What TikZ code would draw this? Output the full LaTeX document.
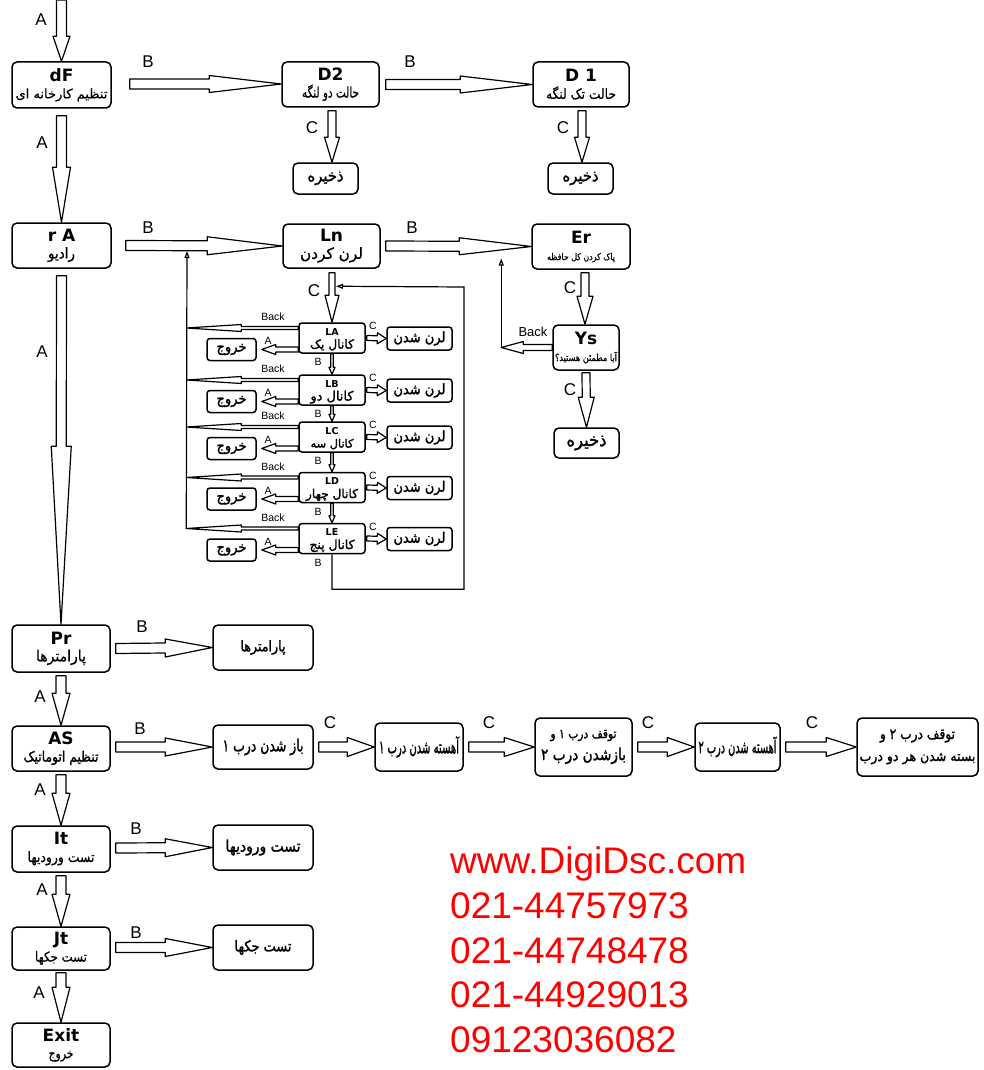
\documentclass[tikz,border=0pt]{standalone}
\usepackage{fontspec}
\usepackage{graphicx}
\setmainfont{Liberation Sans}
\newfontfamily\tf{DejaVu Sans}
\newfontfamily\ar[Script=Arabic,FakeBold=0.6]{DejaVu Sans}
\newfontfamily\arb[Script=Arabic,FakeBold=1.6]{DejaVu Sans}
\TeXXeTstate=1
\usetikzlibrary{calc,arrows.meta}
% width, vertical stretch, text
\newcommand\fa[3]{\resizebox{#1}{!}{\scalebox{1}[#2]{\ar #3}}}
\newcommand\fab[3]{\resizebox{#1}{!}{\scalebox{1}[#2]{\arb #3}}}
\newcommand\ttl[1]{{\tf\bfseries\fontsize{17}{17}\selectfont #1}}
\newcommand\stl[1]{{\tf\bfseries\fontsize{9.5}{9.5}\selectfont #1}}
\newcommand\fatarrow[5]{%
  \coordinate (faS) at (#1);
  \coordinate (faE) at (#2);
  \coordinate (faM) at ($(faE)!#3pt!(faS)$);
  \draw[fat] ($(faS)!#4pt!90:(faE)$) -- ($(faM)!#4pt!90:(faE)$) -- ($(faM)!#5pt!90:(faE)$) -- (faE) -- ($(faM)!#5pt!-90:(faE)$) -- ($(faM)!#4pt!-90:(faE)$) -- ($(faS)!#4pt!-90:(faE)$) -- cycle;}
% channel: name, arabic subtitle, centre y, subtitle width
\newcommand\chan[4]{%
  \node[sbox, minimum width=66pt, minimum height=30pt] (#1) at (332,#3) {};
  \node[inner sep=0pt, anchor=base] (#1t) at (332,#3-3) {\stl{#1}};
  \node[inner sep=0pt, anchor=base] (#1s) at (332,#3+10.5) {\fab{#4}{1}{#2}};
  \node[sbox, minimum width=49pt, minimum height=22pt] (X#1) at (231.5,#3+11.5) {\fab{30pt}{1.1}{\beginR خروج\endR}};
  \node[sbox, minimum width=65pt, minimum height=23pt] (R#1) at (419.5,#3+0.5) {\fab{52pt}{1.1}{\beginR لرن شدن\endR}};
  \coordinate (Bk#1) at ($(#1.west)+(-112,-10)$);
  \fatarrow{$(#1.west|-X#1.center)$}{$(X#1.east)+(5,0)$}{14}{2.5}{5}
  \fatarrow{$(#1.east)+(1,0)$}{R#1.west}{9}{2.5}{5.5}
  \fatarrow{$(#1.west)+(0,-10)$}{Bk#1}{55}{1.5}{3.5}
  \node[slbl] (c#1) at (373,#3-12) {C};
  \node[slbl] (a#1) at (268,#3+3) {A};
  \node[slbl] (b#1) at (318,#3+24) {B};
  \node[slbl] (k#1) at (273,#3-21) {Back};
}
\begin{document}
\begin{tikzpicture}[x=1pt,y=-1pt,
  box/.style={draw, line width=1.5pt, rounded corners=5pt, inner sep=0pt, align=center, font=\fontsize{10}{17}\selectfont},
  sbox/.style={box, rounded corners=3pt, font=\fontsize{8}{10.5}\selectfont},
  lbl/.style={inner sep=0pt, font=\fontsize{17}{17}\selectfont},
  slbl/.style={inner sep=0pt, font=\fontsize{10.5}{10.5}\selectfont},
  fat/.style={draw, line width=1.2pt, fill=white, line join=round},
  wire/.style={line width=1.2pt},
  ltip/.style={-{Triangle[open,length=7pt,width=5pt]}},
  web/.style={text=red, inner sep=0pt, anchor=base west, font=\fontsize{37}{37}\selectfont}]
\useasboundingbox (0,0) rectangle (983,1070);
\fill[white] (0,0) rectangle (983,1070);

% ---------- left column ----------
\node[box, minimum width=99pt, minimum height=46pt] (dF) at (61.5,85) {\ttl{dF}\\\fa{92pt}{1}{\beginR تنظیم کارخانه ای\endR}};
\node[box, minimum width=99pt, minimum height=45pt] (rA) at (61.5,245.5) {\ttl{r A}\\\fa{27pt}{1.1}{\beginR رادیو\endR}};
\node[box, minimum width=98pt, minimum height=47pt] (Pr) at (61,648.5) {\ttl{Pr}\\\fa{50pt}{1.1}{\beginR پارامترها\endR}};
\node[box, minimum width=98pt, minimum height=45pt] (AS) at (61,748.5) {\ttl{AS}\\\fab{75pt}{1.15}{\beginR تنظیم اتوماتیک\endR}};
\node[box, minimum width=98pt, minimum height=46pt] (It) at (61,849) {\ttl{It}\\\fa{67pt}{1.15}{\beginR تست ورودیها\endR}};
\node[box, minimum width=98pt, minimum height=43pt] (Jt) at (61,948.5) {\ttl{Jt}\\\fa{52pt}{1.15}{\beginR تست جکها\endR}};
\node[box, minimum width=98pt, minimum height=44pt] (Exit) at (61,1045) {\ttl{Exit}\\\fa{25pt}{1.3}{\beginR خروج\endR}};

% ---------- top row ----------
\node[box, minimum width=97pt, minimum height=45pt] (D2) at (330.5,84.5) {\ttl{D2}\\\fa{57pt}{1.4}{\beginR حالت دو لنگه\endR}};
\node[box, minimum width=96pt, minimum height=45pt] (D1) at (581,84.5) {\ttl{D 1}\\\fa{70pt}{1.15}{\beginR حالت تک لنگه\endR}};
\node[box, minimum width=65pt, minimum height=31pt] (S1) at (325.5,178.5) {\fab{36pt}{1.1}{\beginR ذخیره\endR}};
\node[box, minimum width=65pt, minimum height=31pt] (S2) at (580.5,178.5) {\fab{36pt}{1.1}{\beginR ذخیره\endR}};

% ---------- radio row ----------
\node[box, minimum width=97pt, minimum height=44pt] (Ln) at (331.5,246) {\ttl{Ln}\\\fa{63pt}{1}{\beginR لرن کردن\endR}};
\node[box, minimum width=98pt, minimum height=45pt] (Er) at (581,246.5) {\ttl{Er}\\\fa{68pt}{1.2}{\beginR پاک کردن کل حافظه\endR}};
\node[box, minimum width=66pt, minimum height=45pt] (Ys) at (586,347.5) {\ttl{Ys}\\\fa{62pt}{1.2}{\beginR آیا مطمئن هستید؟\endR}};
\node[box, minimum width=65pt, minimum height=30pt] (S3) at (586.5,443) {\fab{40pt}{1.1}{\beginR ذخیره\endR}};

% ---------- channels ----------
\chan{LA}{\beginR کانال یک\endR}{338}{44pt}
\chan{LB}{\beginR کانال دو\endR}{390}{43pt}
\chan{LC}{\beginR کانال سه\endR}{437}{43pt}
\chan{LD}{\beginR کانال چهار\endR}{487.5}{52pt}
\chan{LE}{\beginR کانال پنج\endR}{538.5}{45pt}
\fatarrow{LA.south}{LB.north}{7}{1.2}{3}
\fatarrow{LB.south}{LC.north}{7}{1.2}{3}
\fatarrow{LC.south}{LD.north}{7}{1.2}{3}
\fatarrow{LD.south}{LE.north}{7}{1.2}{3}

% ---------- parameter / auto rows ----------
\node[box, minimum width=100pt, minimum height=45pt] (P1) at (263,647.5) {\fab{45pt}{1.15}{\beginR پارامترها\endR}};
\node[box, minimum width=100pt, minimum height=44pt] (Q1) at (263,747) {\fab{81pt}{1.35}{\beginR باز شدن درب ۱\endR}};
\node[box, minimum width=88pt, minimum height=48pt] (Q2) at (419,747) {\fab{80pt}{1.8}{\beginR آهسته شدن درب ۱\endR}};
\node[box, minimum width=97pt, minimum height=58pt, font=\fontsize{10}{22}\selectfont] (Q3) at (583.5,747) {\fab{66pt}{1.2}{\beginR توقف درب ۱ و\endR}\\\fab{85pt}{1.2}{\beginR بازشدن درب ۲\endR}};
\node[box, minimum width=85pt, minimum height=48pt] (Q4) at (737.5,747) {\fab{78pt}{1.8}{\beginR آهسته شدن درب ۲\endR}};
\node[box, minimum width=121pt, minimum height=58pt, font=\fontsize{10}{22}\selectfont] (Q5) at (917.5,747) {\fab{75pt}{1.2}{\beginR توقف درب ۲ و\endR}\\\fab{116pt}{1.1}{\beginR بسته شدن هر دو درب\endR}};
\node[box, minimum width=100pt, minimum height=45pt] (I1) at (263,847.5) {\fab{75pt}{1.15}{\beginR تست ورودیها\endR}};
\node[box, minimum width=100pt, minimum height=45pt] (J1) at (263,947.5) {\fab{57pt}{1.15}{\beginR تست جکها\endR}};

% ---------- fat arrows ----------
\coordinate (top) at (61.5,0);
\fatarrow{top}{dF.north}{25}{5}{8.5}
\fatarrow{$(dF.south)+(0,7)$}{rA.north}{55}{5}{9}
\fatarrow{$(rA.south)+(0,7)$}{Pr.north}{178}{5}{10}
\fatarrow{$(Pr.south)+(0,3)$}{AS.north}{32}{5}{9}
\fatarrow{$(AS.south)+(0,3)$}{It.north}{32}{5}{9}
\fatarrow{$(It.south)+(0,3)$}{Jt.north}{32}{5}{9}
\fatarrow{$(Jt.south)+(0,2)$}{Exit.north}{35}{5}{9}

\fatarrow{$(dF.east)+(18,-1)$}{$(D2.west)+(0,-0.5)$}{72}{5}{8.5}
\fatarrow{$(D2.east)+(6,0)$}{D1.west}{72}{5}{8.5}
\fatarrow{$(rA.east)+(14,0)$}{Ln.west}{75}{5}{9}
\fatarrow{$(Ln.east)+(5,0)$}{Er.west}{72}{5}{8.5}
\fatarrow{$(Pr.east)+(5,0)$}{P1.west}{47}{5}{9}
\fatarrow{$(AS.east)+(5,-1.5)$}{Q1.west}{47}{5}{9}
\fatarrow{$(It.east)+(5,-1)$}{I1.west}{47}{5}{9}
\fatarrow{$(Jt.east)+(5,-1)$}{J1.west}{47}{5}{9}
\fatarrow{$(Q1.east)+(5,0)$}{Q2.west}{27}{5}{9.5}
\fatarrow{$(Q2.east)+(5,0)$}{Q3.west}{30}{5}{9.5}
\fatarrow{$(Q3.east)+(5,0)$}{Q4.west}{27}{5}{9.5}
\fatarrow{$(Q4.east)+(5,0)$}{Q5.west}{30}{5}{9.5}

\fatarrow{$(D2.south)+(1.5,3)$}{$(S1.north)+(6.5,0)$}{25}{4}{7.5}
\fatarrow{$(D1.south)+(1,3)$}{$(S2.north)+(1.5,0)$}{25}{4}{7.5}
\fatarrow{$(Ln.south)+(0.5,4)$}{LA.north}{27}{3}{7}
\fatarrow{$(Er.south)+(4,3)$}{$(Ys.north)+(-1,0)$}{28}{4}{8}
\fatarrow{$(Ys.south)+(0,2)$}{S3.north}{30}{4}{8}

% ---------- back / loop wires ----------
\coordinate (BkTop) at (187,251);
\draw[wire, ltip] (BkLE) -- (BkTop);
\coordinate (YsBk) at ($(Ys.west)+(-51,0)$);
\fatarrow{Ys.west}{YsBk}{22}{3}{6}
\coordinate (YsUp) at ($(YsBk)+(0,-89)$);
\draw[wire, ltip] (YsBk) -- (YsUp);
\coordinate (LoopEnd) at ($(LA.north)+(4,-36)$);
\draw[wire, ltip] (LE.south) -- ++(0,35) -| (464,287) -- (LoopEnd);

% ---------- labels ----------
\node[lbl] (lA1) at (41,20) {A};
\node[lbl] (lA2) at (42,143) {A};
\node[lbl] (lA3) at (42,352) {A};
\node[lbl] (lA4) at (40,697) {A};
\node[lbl] (lA5) at (40,790) {A};
\node[lbl] (lA6) at (42,890) {A};
\node[lbl] (lA7) at (39,993) {A};
\node[lbl] (lB1) at (148,62) {B};
\node[lbl] (lB2) at (410,62) {B};
\node[lbl] (lB3) at (148,228) {B};
\node[lbl] (lB4) at (412,228) {B};
\node[lbl] (lB5) at (142,627) {B};
\node[lbl] (lB6) at (140,729) {B};
\node[lbl] (lB7) at (136,829) {B};
\node[lbl] (lB8) at (136,933) {B};
\node[lbl] (lC1) at (312,128) {C};
\node[lbl] (lC2) at (563,128) {C};
\node[lbl] (lC3) at (314,291) {C};
\node[lbl] (lC4) at (570,288) {C};
\node[lbl] (lC5) at (570,390) {C};
\node[lbl] (lC6) at (330,723) {C};
\node[lbl] (lC7) at (489,723) {C};
\node[lbl] (lC8) at (648,723) {C};
\node[lbl] (lC9) at (812,723) {C};
\node[inner sep=0pt, font=\fontsize{13}{13}\selectfont] (lYsBack) at (533,332) {Back};

% ---------- contact ----------
\node[web] (w1) at (450,873) {www.DigiDsc.com};
\node[web] (w2) at (450,918) {021-44757973};
\node[web] (w3) at (450,963) {021-44748478};
\node[web] (w4) at (450,1007.5) {021-44929013};
\node[web] (w5) at (450,1052) {09123036082};
\end{tikzpicture}
\end{document}
